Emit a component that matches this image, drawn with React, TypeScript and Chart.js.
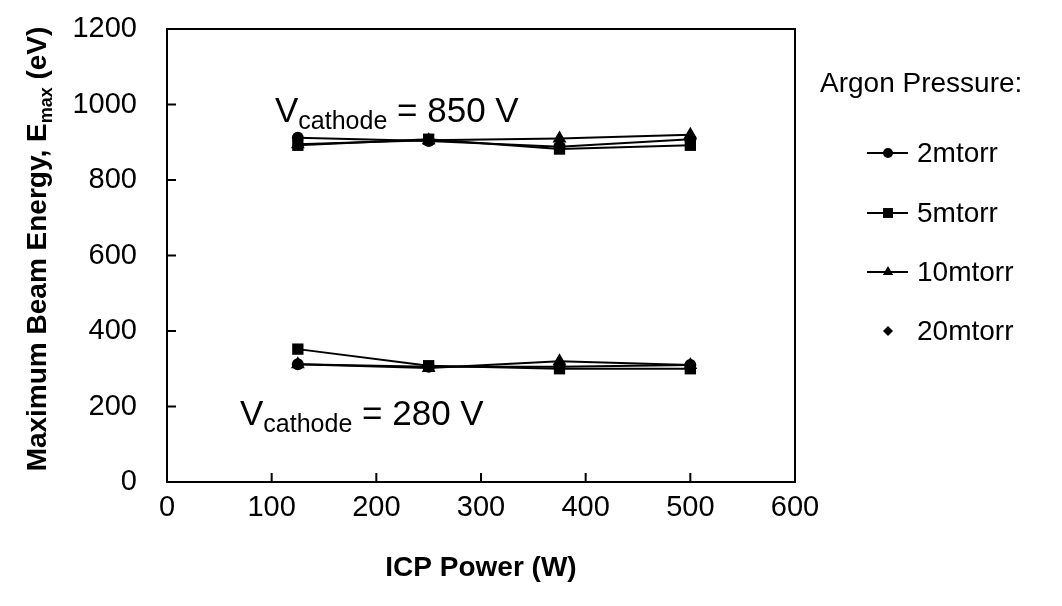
import React, { useEffect, useRef } from "react";
import { Chart, registerables } from "chart.js";

Chart.register(...registerables);

const xPower = [125, 250, 375, 500];
const seriesNames = ["2mtorr", "5mtorr", "10mtorr", "20mtorr"];
const pointStyles = ["circle", "rect", "triangle", "rectRot"];
const pointRadii = [6, 8, 8, 5];
const showLines = [true, true, true, false];

// Vcathode = 850 V
const high2 = [912, 903, 888, 908];
const high5 = [892, 908, 882, 892];
const high10 = [895, 905, 910, 920];
const high20 = [900, 905, 895, 900];
// Vcathode = 280 V
const low2 = [312, 305, 305, 310];
const low5 = [352, 308, 300, 300];
const low10 = [312, 302, 320, 310];
const low20 = [310, 305, 305, 305];

const xTicks = [0, 100, 200, 300, 400, 500, 600];
const yTicks = [0, 200, 400, 600, 800, 1000, 1200];

const FONT = "'Liberation Sans', Arial, sans-serif";

function drawSub(ctx: CanvasRenderingContext2D, x: number, y: number, main: string, sub: string, rest: string, size: number, subSize: number, bold: boolean) {
  const w = bold ? "bold " : "";
  ctx.font = `${w}${size}px ${FONT}`;
  ctx.textAlign = "left";
  ctx.textBaseline = "alphabetic";
  ctx.fillText(main, x, y);
  let cx = x + ctx.measureText(main).width;
  ctx.font = `${w}${subSize}px ${FONT}`;
  ctx.fillText(sub, cx, y + size * 0.2);
  cx += ctx.measureText(sub).width;
  ctx.font = `${w}${size}px ${FONT}`;
  ctx.fillText(rest, cx, y);
  return cx + ctx.measureText(rest).width - x;
}

const decorPlugin = {
  id: "decor",
  afterDraw(chart: any) {
    const ctx = chart.ctx as CanvasRenderingContext2D;
    const { left, right, top, bottom } = chart.chartArea;
    const xs = chart.scales.x;
    const ys = chart.scales.y;
    ctx.save();
    ctx.strokeStyle = "#000";
    ctx.fillStyle = "#000";
    ctx.lineWidth = 2;
    ctx.strokeRect(left, top, right - left, bottom - top);
    // inward ticks
    ctx.beginPath();
    yTicks.forEach((v) => {
      const py = ys.getPixelForValue(v);
      ctx.moveTo(left, py);
      ctx.lineTo(left + 9, py);
    });
    xTicks.forEach((v) => {
      const px = xs.getPixelForValue(v);
      ctx.moveTo(px, bottom);
      ctx.lineTo(px, bottom - 9);
    });
    ctx.stroke();

    // x title
    ctx.font = `bold 28px ${FONT}`;
    ctx.textAlign = "center";
    ctx.textBaseline = "middle";
    ctx.fillText("ICP Power (W)", (left + right) / 2, 568);

    // y title (rotated)
    ctx.save();
    ctx.translate(36, 249);
    ctx.rotate(-Math.PI / 2);
    ctx.font = `bold 28px ${FONT}`;
    const w1 = ctx.measureText("Maximum Beam Energy, E").width;
    ctx.font = `bold 18px ${FONT}`;
    const w2 = ctx.measureText("max").width;
    ctx.font = `bold 28px ${FONT}`;
    const w3 = ctx.measureText(" (eV)").width;
    const tot = w1 + w2 + w3;
    drawSub(ctx, -tot / 2, 10, "Maximum Beam Energy, E", "max", " (eV)", 28, 18, true);
    ctx.restore();

    // annotations
    drawSub(ctx, 275, 122, "V", "cathode", " = 850 V", 35, 25, false);
    drawSub(ctx, 240, 425, "V", "cathode", " = 280 V", 35, 25, false);

    // legend
    ctx.font = `28px ${FONT}`;
    ctx.textAlign = "left";
    ctx.textBaseline = "middle";
    ctx.fillText("Argon Pressure:", 820, 84);
    const legY = [153, 213, 272, 331];
    seriesNames.forEach((name, i) => {
      const y = legY[i];
      if (showLines[i]) {
        ctx.lineWidth = 2;
        ctx.beginPath();
        ctx.moveTo(867, y);
        ctx.lineTo(908, y);
        ctx.stroke();
      }
      const r = i === 3 ? 5 : i === 1 ? 7 : i === 2 ? 6 : 5;
      ctx.beginPath();
      if (pointStyles[i] === "circle") {
        ctx.arc(888, y, r, 0, Math.PI * 2);
      } else if (pointStyles[i] === "rect") {
        const s = r * Math.SQRT1_2;
        ctx.rect(888 - s, y - s, 2 * s, 2 * s);
      } else if (pointStyles[i] === "triangle") {
        ctx.moveTo(888, y - r);
        ctx.lineTo(888 + r * 0.87, y + r * 0.5);
        ctx.lineTo(888 - r * 0.87, y + r * 0.5);
        ctx.closePath();
      } else {
        ctx.moveTo(888, y - r);
        ctx.lineTo(888 + r, y);
        ctx.lineTo(888, y + r);
        ctx.lineTo(888 - r, y);
        ctx.closePath();
      }
      ctx.fill();
      ctx.fillText(name, 917, y + 1);
    });
    ctx.restore();
  },
};

function mk(vals: number[], i: number) {
  return {
    label: seriesNames[i],
    data: xPower.map((x, k) => ({ x, y: vals[k] })),
    borderColor: "#000",
    backgroundColor: "#000",
    borderWidth: 2,
    showLine: showLines[i],
    pointStyle: pointStyles[i],
    pointRadius: pointRadii[i],
    pointBorderWidth: 0,
    tension: 0,
  };
}

export default function App() {
  const ref = useRef<HTMLCanvasElement>(null);
  useEffect(() => {
    if (!ref.current) return;
    const chart = new Chart(ref.current, {
      type: "scatter",
      data: {
        datasets: [
          mk(high20, 3), mk(high2, 0), mk(high5, 1), mk(high10, 2),
          mk(low20, 3), mk(low2, 0), mk(low5, 1), mk(low10, 2),
        ],
      },
      options: {
        responsive: false,
        animation: false,
        layout: { padding: { top: 29, right: 267, left: 0, bottom: 0 } },
        plugins: { legend: { display: false }, tooltip: { enabled: false } },
        scales: {
          x: {
            type: "linear",
            min: 0,
            max: 600,
            afterBuildTicks: (s: any) => { s.ticks = xTicks.map((v) => ({ value: v })); },
            afterFit: (s: any) => { s.height = 124; s.paddingLeft = 0; s.paddingRight = 0; },
            ticks: { font: { family: FONT, size: 29 }, color: "#000", padding: 1, maxRotation: 0, callback: (v: any) => String(v) },
            grid: { display: false },
            border: { display: false },
          },
          y: {
            type: "linear",
            min: 0,
            max: 1200,
            afterBuildTicks: (s: any) => { s.ticks = yTicks.map((v) => ({ value: v })); },
            afterFit: (s: any) => { s.width = 167; s.paddingTop = 0; s.paddingBottom = 0; },
            ticks: { font: { family: FONT, size: 29 }, color: "#000", padding: 22, callback: (v: any) => String(v) },
            grid: { display: false },
            border: { display: false },
          },
        },
      },
      plugins: [decorPlugin],
    });
    return () => chart.destroy();
  }, []);
  return (
    <div style={{ position: "absolute", left: 0, top: 0, width: 1062, height: 606, background: "#fff" }}>
      <canvas ref={ref} width={1062} height={606} />
    </div>
  );
}
